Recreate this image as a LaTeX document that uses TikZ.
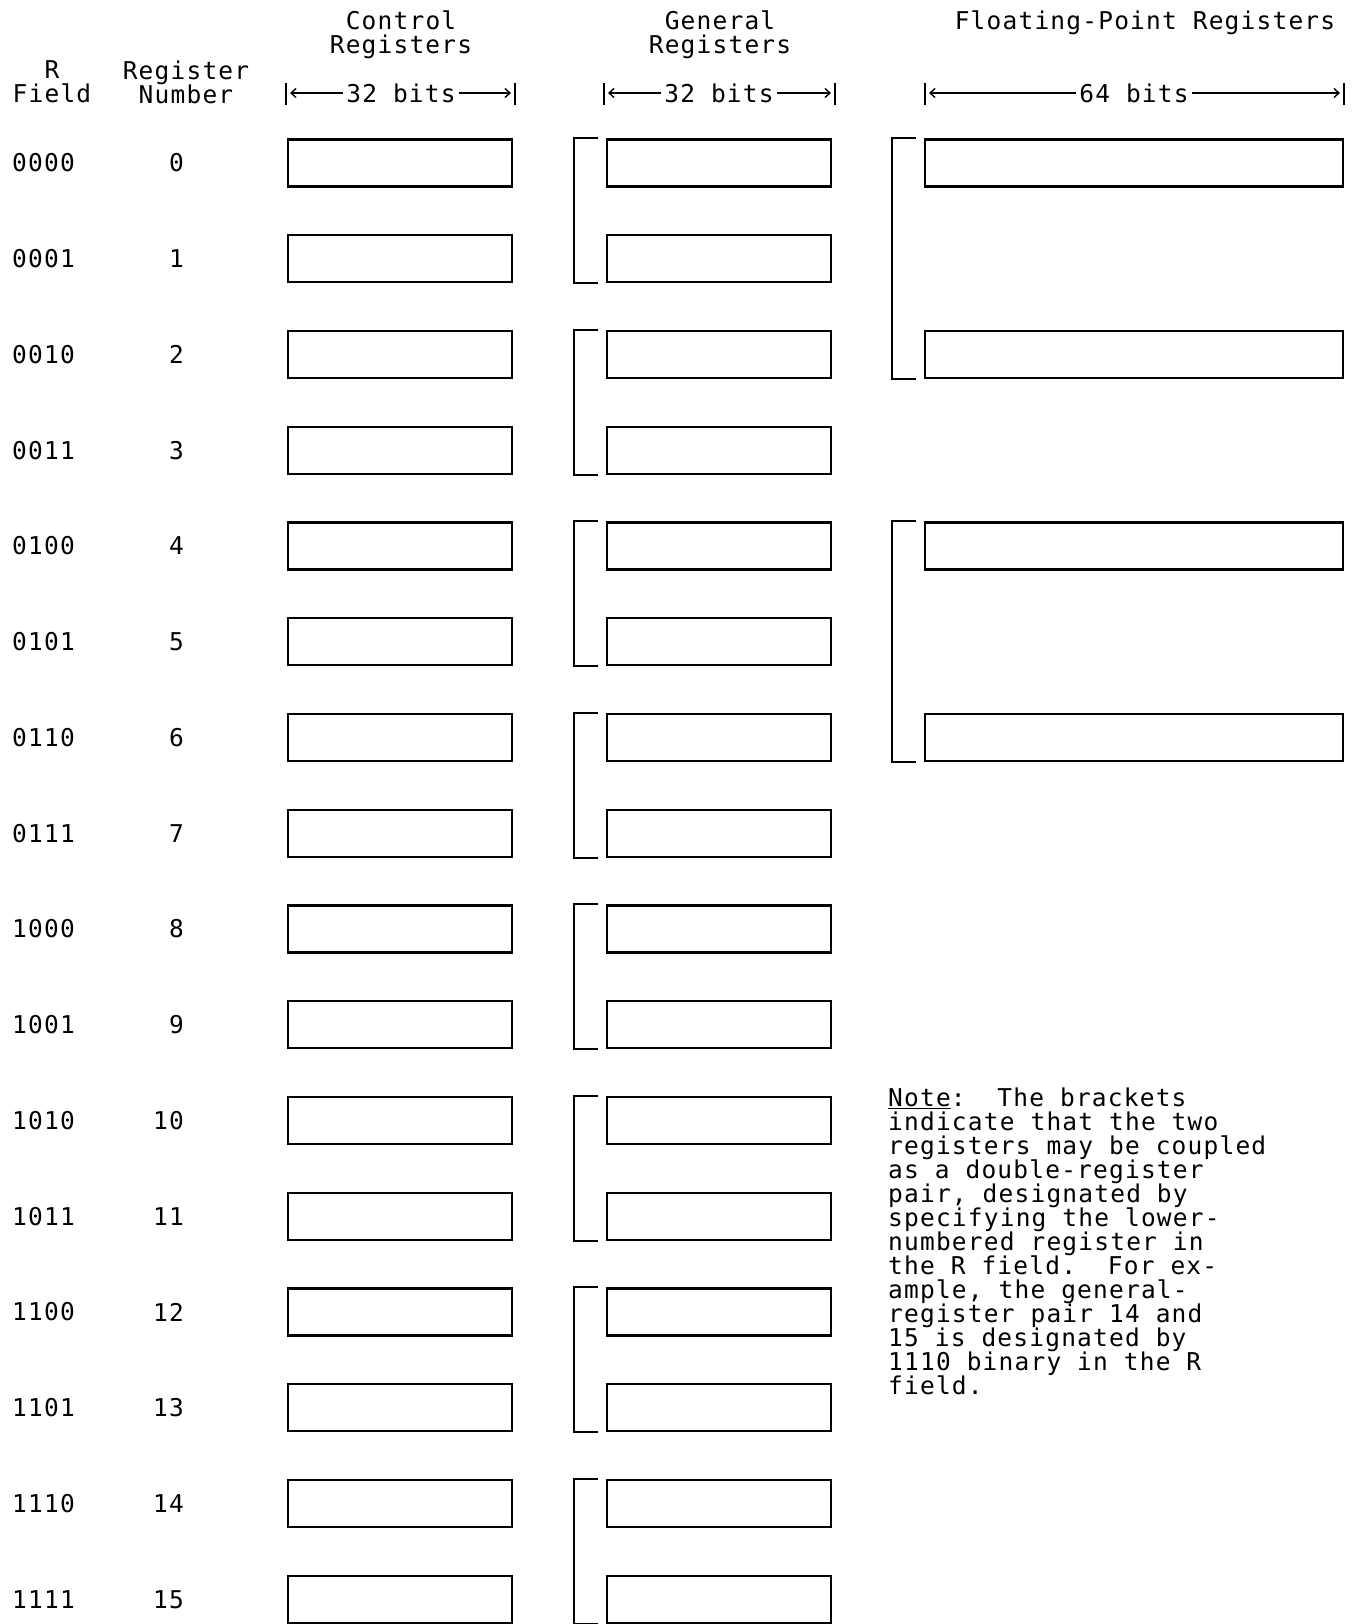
\documentclass[tikz,border=0pt]{standalone}
\usepackage{fontspec}
\newfontfamily\regmono[LetterSpace=4.9]{DejaVu Sans Mono}
\usetikzlibrary{arrows.meta}
\newcommand{\regfont}{\fontsize{24.5}{24}\regmono\frenchspacing\lineskiplimit=-30pt\relax\lineskip=0pt\relax}
\begin{document}
\begin{tikzpicture}[x=1pt,y=-1pt,
  every node/.style={font=\regfont},
  reg/.style={draw, line width=2.2pt, minimum height=47pt, inner sep=0pt},
  narrow/.style={reg, minimum width=224pt},
  wide/.style={reg, minimum width=418pt},
  bracket/.style={line width=2pt},
  bar/.style={line width=1.8pt},
  bitarrow/.style={line width=1.4pt, -{Straight Barb[length=5pt,width=9pt]}},
  label/.style={inner sep=0pt}]
\useasboundingbox (0,0) rectangle (1359,1624);

% headers
\node[align=center] (hr) at (52,82) {R\\Field};
\node[align=center] (hn) at (186,82) {Register\\Number};
\node[align=center] (hc) at (401,35) {Control\\Registers};
\node[align=center] (hg) at (720,35) {General\\Registers};
\node (hf) at (1145,23) {Floating-Point Registers};

% bit widths
\node[label] (bc) at (401,93) {32 bits};
\node[label] (bg) at (719,93) {32 bits};
\node[label] (bf) at (1134,93) {64 bits};
\draw[bar] (286,83) -- (286,105);
\draw[bar] (515,83) -- (515,105);
\draw[bar] (604,83) -- (604,105);
\draw[bar] (835,83) -- (835,105);
\draw[bar] (925,83) -- (925,105);
\draw[bar] (1344,83) -- (1344,105);
\coordinate (bcl) at (290,93); \coordinate (bcr) at (511,93);
\coordinate (bgl) at (608,93); \coordinate (bgr) at (831,93);
\coordinate (bfl) at (929,93); \coordinate (bfr) at (1340,93);
\draw[bitarrow] ([xshift=-3pt]bc.west) -- (bcl);
\draw[bitarrow] ([xshift=3pt]bc.east) -- (bcr);
\draw[bitarrow] ([xshift=-3pt]bg.west) -- (bgl);
\draw[bitarrow] ([xshift=3pt]bg.east) -- (bgr);
\draw[bitarrow] ([xshift=-3pt]bf.west) -- (bfl);
\draw[bitarrow] ([xshift=3pt]bf.east) -- (bfr);

% rows
\foreach \i/\b in {0/0000,1/0001,2/0010,3/0011,4/0100,5/0101,6/0110,7/0111,
                   8/1000,9/1001,10/1010,11/1011,12/1100,13/1101,14/1110,15/1111}{
  \pgfmathsetmacro{\y}{163+95.75*\i}
  \node[label, anchor=west] (f\i) at (12,\y) {\b};
  \node[label, anchor=east] (n\i) at (184,\y) {\i};
  \node[narrow] (c\i) at (400,\y) {};
  \node[narrow] (g\i) at (719,\y) {};
}
\foreach \i in {0,2,4,6}{
  \pgfmathsetmacro{\y}{163+95.75*\i}
  \node[wide] (p\i) at (1134,\y) {};
}

% general register brackets
\foreach \i [evaluate=\i as \j using int(\i+1)] in {0,2,4,6,8,10,12,14}{
  \draw[bracket] ([xshift=-8pt]g\i.north west) -- ++(-24,0) |- ([xshift=-8pt]g\j.south west);
}
% floating-point brackets
\draw[bracket] ([xshift=-8pt]p0.north west) -- ++(-24,0) |- ([xshift=-8pt]p2.south west);
\draw[bracket] ([xshift=-8pt]p4.north west) -- ++(-24,0) |- ([xshift=-8pt]p6.south west);

% note
\node[label, anchor=north west, align=left] (note) at (888,1088) {%
\underline{Note}:\ \ The brackets\\
indicate that the two\\
registers may be coupled\\
as a double-register\\
pair, designated by\\
specifying the lower-\\
numbered register in\\
the R field.\ \ For ex-\\
ample, the general-\\
register pair 14 and\\
15 is designated by\\
1110 binary in the R\\
field.};
\end{tikzpicture}
\end{document}
